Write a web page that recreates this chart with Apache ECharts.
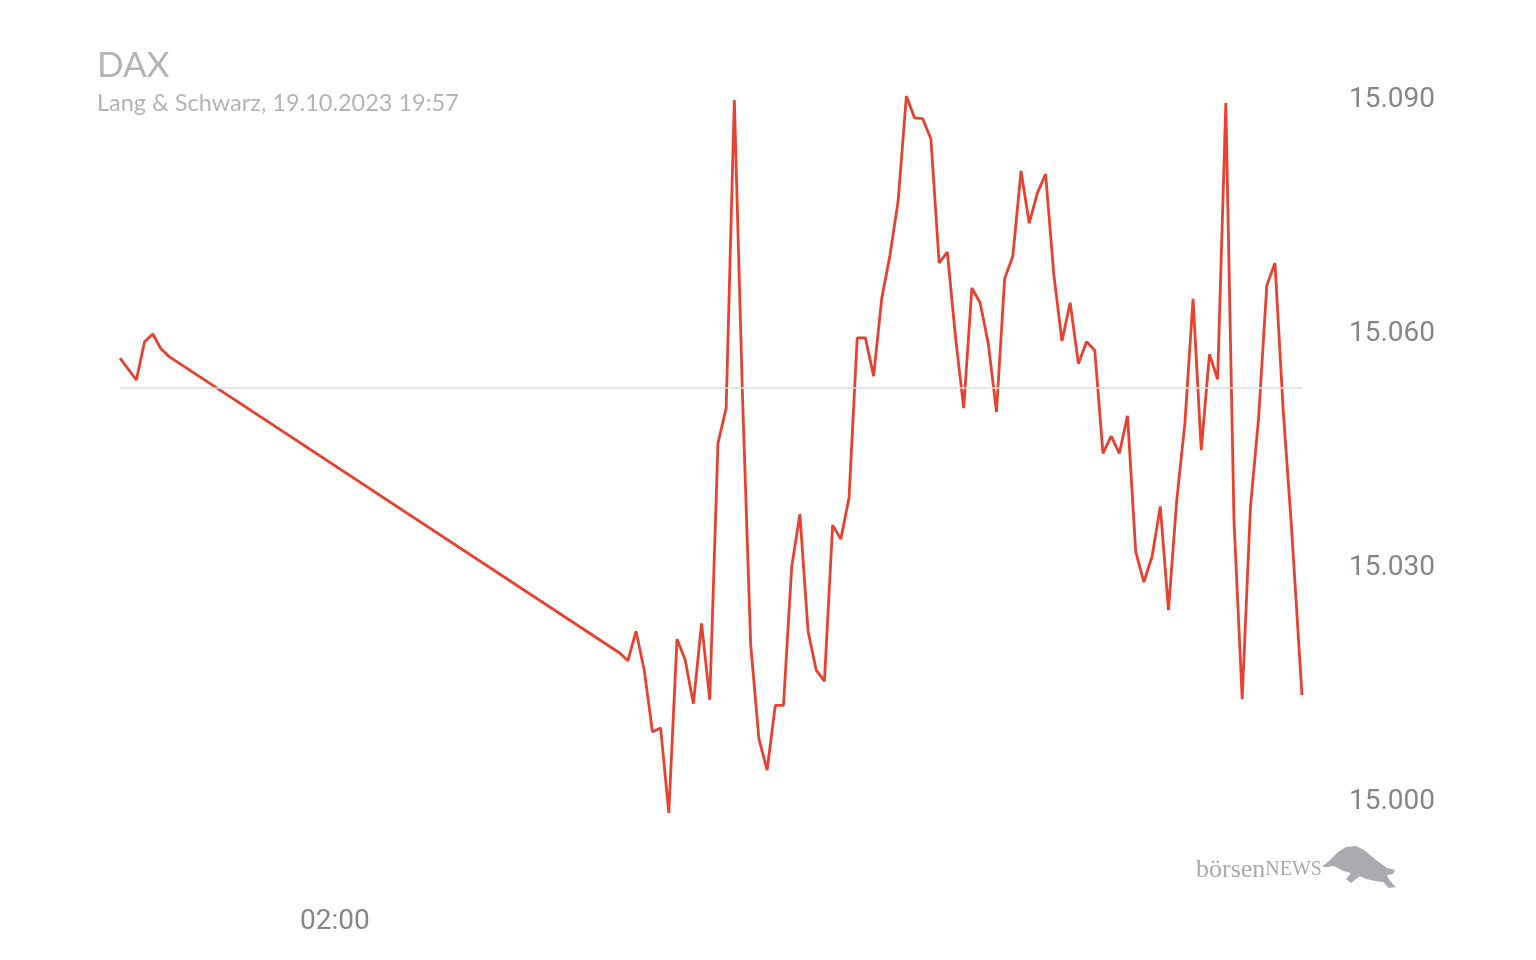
<!DOCTYPE html>
<html>
<head>
<meta charset="utf-8">
<script src="https://cdn.jsdelivr.net/npm/echarts@6/dist/echarts.min.js"></script>
<style>
    html, body {margin: 0; background: #fff;}
    #chart {width: 1536px; height: 960px;}
</style>
</head>
<body>
<div id="chart"></div>
<script>
// evening session 18.10.2023
var eveningTimes = ['21:40', '22:00', '22:10', '22:20', '22:30', '22:40'];
var eveningValues = [15056.9, 15054.1, 15059.0, 15060.0, 15058.1, 15057.1];

// day session 19.10.2023
var dayTimes = [
    '07:50',
    '08:00', '08:10', '08:20', '08:30', '08:40', '08:50',
    '09:00', '09:10', '09:20', '09:30', '09:40', '09:50',
    '10:00', '10:10', '10:20', '10:30', '10:40', '10:50',
    '11:00', '11:10', '11:20', '11:30', '11:40', '11:50',
    '12:00', '12:10', '12:20', '12:30', '12:40', '12:50',
    '13:00', '13:10', '13:20', '13:30', '13:40', '13:50',
    '14:00', '14:10', '14:20', '14:30', '14:40', '14:50',
    '15:00', '15:10', '15:20', '15:30', '15:40', '15:50',
    '16:00', '16:10', '16:20', '16:30', '16:40', '16:50',
    '17:00', '17:10', '17:20', '17:30', '17:40', '17:50',
    '18:00', '18:10', '18:20', '18:30', '18:40', '18:50',
    '19:00', '19:10', '19:20', '19:30', '19:40', '19:50',
    '20:00', '20:10', '20:20', '20:30', '20:40', '20:50',
    '21:00', '21:10', '21:20', '21:30', '21:43'
];
var dayValues = [
    15019.1, 15018.1, 15021.9, 15016.9, 15009.0, 15009.5, 14998.6, 15020.9, 15018.2, 15012.6,
    15022.9, 15013.1, 15046.0, 15050.5, 15090.0, 15051.9, 15020.1, 15008.1, 15004.1, 15012.4,
    15012.4, 15030.1, 15036.9, 15021.9, 15016.9, 15015.5, 15035.5, 15033.7, 15039.0, 15059.5,
    15059.5, 15054.6, 15064.6, 15070.1, 15077.1, 15090.5, 15087.7, 15087.6, 15085.0, 15069.1,
    15070.5, 15059.6, 15050.5, 15065.9, 15064.0, 15058.8, 15050.0, 15067.1, 15070.0, 15080.9,
    15074.2, 15078.1, 15080.5, 15067.6, 15059.1, 15064.0, 15056.2, 15059.0, 15057.9, 15044.7,
    15046.9, 15044.7, 15049.5, 15032.1, 15028.2, 15031.5, 15037.9, 15024.6, 15038.6, 15048.5,
    15064.5, 15045.1, 15057.4, 15054.2, 15089.6, 15036.0, 15013.2, 15037.7, 15049.2, 15066.2,
    15069.1, 15050.3, 15035.5, 15013.7
];

var prevClose = 15053.1;
var yTicks = [15000, 15030, 15060, 15090];
var xTicks = ['2023-10-19 02:00'];

var labelGray = '#83878b';
var titleGray = '#b2b4b7';

function toTime(day, hm) {
    return new Date(day + 'T' + hm + ':00').getTime();
}

function pad(n) {
    return n < 10 ? '0' + n : '' + n;
}

/**
 * German thousands separator, 15090 -> 15.090
 */
function formatPrice(v) {
    var s = String(Math.round(v));
    return s.slice(0, s.length - 3) + '.' + s.slice(s.length - 3);
}

var lineData = [];
eveningTimes.forEach(function (t, i) {
    lineData.push([toTime('2023-10-18', t), eveningValues[i]]);
});
dayTimes.forEach(function (t, i) {
    lineData.push([toTime('2023-10-19', t), dayValues[i]]);
});

var xTickValues = xTicks.map(function (s) {
    return toTime(s.slice(0, 10), s.slice(11));
});

var chart = echarts.init(document.getElementById('chart'));

var option = {
    animation: false,
    backgroundColor: '#fff',
    title: {
        text: 'DAX',
        subtext: 'Lang & Schwarz, 19.10.2023 19:57',
        left: 92,
        top: 43,
        itemGap: 8,
        textStyle: {fontFamily: 'Lato', fontSize: 35, fontWeight: 'normal', color: titleGray},
        subtextStyle: {fontFamily: 'Lato', fontSize: 23.5, color: titleGray}
    },
    grid: {left: 120, right: 234, top: 22, bottom: 80},
    xAxis: {
        // timestamps on a plain value axis, labels only where asked
        type: 'value',
        min: lineData[0][0],
        max: lineData[lineData.length - 1][0],
        axisLine: {show: false},
        axisTick: {show: false},
        splitLine: {show: false},
        axisLabel: {
            customValues: xTickValues,
            margin: 28,
            fontFamily: 'Roboto',
            fontSize: 28,
            color: labelGray,
            padding: [0, 0, 0, 4],
            formatter: function (v) {
                var d = new Date(v);
                return pad(d.getHours()) + ':' + pad(d.getMinutes());
            }
        }
    },
    yAxis: {
        type: 'value',
        position: 'right',
        min: 14990,
        max: 15100,
        axisLine: {show: false},
        axisTick: {show: false},
        splitLine: {show: false},
        axisLabel: {
            customValues: yTicks,
            margin: 47,
            fontFamily: 'Roboto',
            fontSize: 28,
            color: labelGray,
            padding: [8, 0, 0, 0],
            formatter: formatPrice
        }
    },
    series: [{
        type: 'line',
        data: lineData,
        showSymbol: false,
        lineStyle: {color: '#e8412f', width: 2.8},
        markLine: {
            silent: true,
            symbol: ['none', 'none'],
            label: {show: false},
            lineStyle: {color: '#dcdcdc', width: 1.5, type: 'solid'},
            data: [{yAxis: prevClose}]
        },
        z: 3
    }],
    graphic: [
        {
            type: 'text',
            left: 1196,
            top: 857,
            style: {
                text: '{a|börsen}{b|NEWS}',
                fill: '#a7a9ac',
                rich: {
                    a: {fontFamily: 'Liberation Serif', fontSize: 26, fill: '#a7a9ac'},
                    b: {fontFamily: 'Liberation Serif', fontSize: 20, fill: '#a7a9ac'}
                }
            }
        },
        {
            // bull silhouette of the logo
            type: 'polygon',
            shape: {
                points: [[1322, 867], [1330, 860], [1338, 852], [1346, 847], [1356, 846], [1364, 850],
                    [1376, 860], [1387, 868], [1395, 870], [1393, 874], [1387, 875], [1390, 881],
                    [1396, 887], [1389, 888], [1383, 882], [1375, 881], [1366, 879], [1360, 876],
                    [1355, 880], [1351, 883], [1346, 879], [1351, 873], [1343, 871], [1334, 866],
                    [1327, 867]]
            },
            style: {fill: '#a9abae'}
        }
    ]
};

chart.setOption(option);

window.onresize = function () {
    if (null != chart) {
        chart.resize();
    }
};
</script>
</body>
</html>
